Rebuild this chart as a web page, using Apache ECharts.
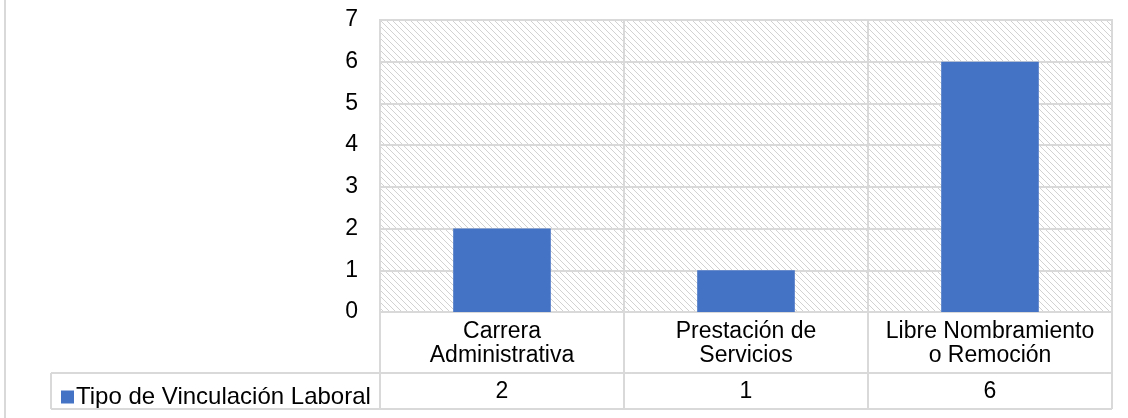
<!DOCTYPE html>
<html>
<head>
<meta charset="utf-8">
<script src="https://cdn.jsdelivr.net/npm/echarts@6/dist/echarts.min.js"></script>
<style>
html,body{margin:0;padding:0;background:#fff;}
#chart{width:1128px;height:418px;}
</style>
</head>
<body>
<div id="chart"></div>
<script>
const categories = ['Carrera\nAdministrativa', 'Prestación de\nServicios', 'Libre Nombramiento\no Remoción'];
const seriesName = 'Tipo de Vinculación Laboral';
const values = [2, 1, 6];
const yMin = 0, yMax = 7, yInterval = 1;

const FONT = "'Liberation Sans', Arial, sans-serif";
const GRID_COLOR = '#d9d9d9';

// hatch pattern tile (downward diagonal)
const tile = document.createElement('canvas');
tile.width = 6; tile.height = 6;
const tctx = tile.getContext('2d');
tctx.fillStyle = '#ffffff';
tctx.fillRect(0, 0, 6, 6);
tctx.fillStyle = '#d2d2d2';
for (let i = 0; i < 6; i++) {
  tctx.fillRect(i, i, 1, 1);
}

const chart = echarts.init(document.getElementById('chart'), null, {renderer: 'canvas'});
const gridLeft = 380, gridRight = 16, gridTop = 20, gridBottom = 106;

const option = {
  animation: false,
  backgroundColor: '#fff',
  textStyle: {fontFamily: FONT},
  grid: {
    left: gridLeft, right: gridRight, top: gridTop, bottom: gridBottom,
    show: true,
    backgroundColor: {image: tile, repeat: 'repeat'},
    borderColor: GRID_COLOR, borderWidth: 2
  },
  legend: {
    show: true,
    left: 56, top: 380,
    icon: 'rect', itemWidth: 13, itemHeight: 13, itemGap: 4,
    textStyle: {fontSize: 24, color: '#000', fontFamily: FONT, padding: [0, 0, 0, -3]},
    data: [seriesName]
  },
  xAxis: {
    type: 'category',
    data: categories,
    axisLine: {show: true, lineStyle: {color: GRID_COLOR, width: 2}},
    axisTick: {show: true, length: 97, interval: 0, lineStyle: {color: GRID_COLOR, width: 2}},
    axisLabel: {fontSize: 23, lineHeight: 24, color: '#000', margin: 8, fontFamily: FONT, interval: 0},
    splitLine: {show: true, interval: 0, lineStyle: {color: GRID_COLOR, width: 2}}
  },
  yAxis: {
    type: 'value',
    min: yMin, max: yMax, interval: yInterval,
    axisLine: {show: false},
    axisTick: {show: false},
    axisLabel: {fontSize: 23, color: '#000', margin: 22, fontFamily: FONT},
    splitLine: {show: true, lineStyle: {color: GRID_COLOR, width: 2}}
  },
  series: [{
    name: seriesName,
    type: 'bar',
    data: values,
    barWidth: '40%',
    itemStyle: {color: '#4472C4'}
  }]
};
chart.setOption(option);

// data table row built from the axis scale
const xRight = 1128 - gridRight;
const rowTop = 373, rowBottom = 409;
const graphics = [
  {type: 'line', shape: {x1: 5, y1: 0, x2: 5, y2: 418}, style: {stroke: GRID_COLOR, lineWidth: 2}, z: 10},
  {type: 'line', shape: {x1: 51, y1: rowTop, x2: xRight, y2: rowTop}, style: {stroke: GRID_COLOR, lineWidth: 2}, z: 10},
  {type: 'line', shape: {x1: 51, y1: rowBottom, x2: xRight, y2: rowBottom}, style: {stroke: GRID_COLOR, lineWidth: 2}, z: 10},
  {type: 'line', shape: {x1: 51, y1: rowTop, x2: 51, y2: rowBottom}, style: {stroke: GRID_COLOR, lineWidth: 2}, z: 10}
];
values.forEach((v, i) => {
  const x = chart.convertToPixel({xAxisIndex: 0}, i);
  graphics.push({
    type: 'text', x: x, y: (rowTop + rowBottom) / 2 + 1,
    style: {text: String(v), fontSize: 23, fontFamily: FONT, fill: '#000', align: 'center', verticalAlign: 'middle'},
    z: 10
  });
});
chart.setOption({graphic: graphics});
</script>
</body>
</html>
